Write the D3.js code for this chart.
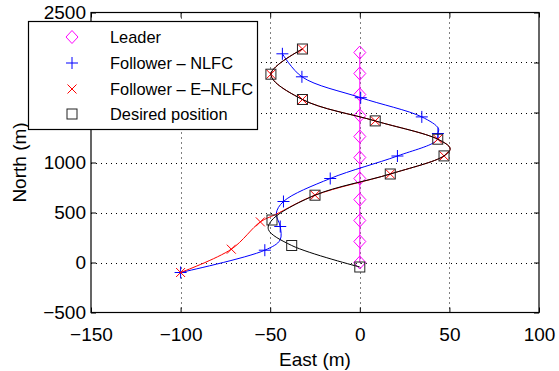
<!DOCTYPE html>
<html><head><meta charset="utf-8">
<script src="https://cdn.jsdelivr.net/npm/d3@7"></script>
<style>body{margin:0;background:#fff}svg{display:block}text{font-family:"Liberation Sans",Arial,Helvetica,sans-serif}</style>
</head><body><svg id="c" width="559" height="371"></svg>
<script>
// ---- data ----
const xTicks = [-150, -100, -50, 0, 50, 100];
const yTicks = [-500, 0, 500, 1000, 1500, 2000, 2500];
const legendLabels = ["Leader", "Follower \u2013 NLFC", "Follower \u2013 E\u2013NLFC", "Desired position"];

// markers (one per sample time)
const leaderEast  = [0, 0, 0, 0, 0, 0, 0, 0, 0, 0, 0];
const leaderNorth = [0, 210, 420, 630, 840, 1050, 1260, 1470, 1680, 1890, 2100];
const nlfcEast    = [-100, -53, -44.4, -42.6, -16.5, 21, 43.6, 34.6, 0.5, -32.3, -43.2];
const nlfcNorth   = [-100, 123, 360, 610, 840, 1065, 1290, 1456, 1648, 1857, 2087];
const enlfcEast   = [-100, -71.7, -55.5, -25, 17, 47, 43.5, 8.6, -32, -49.6, -32];
const enlfcNorth  = [-100, 133, 406, 673, 885, 1066, 1233, 1416, 1630, 1883, 2135];
const desiredEast = [0, -38, -49, -25, 17, 47, 43.5, 8.6, -32, -49.6, -32];
const desiredNorth= [-45, 170, 425, 673, 885, 1066, 1233, 1416, 1630, 1883, 2135];

// traces
const leaderPathEast  = [0, 0];
const leaderPathNorth = [0, 2100];
const nlfcPathEast    = [-100, -53, -44.5, -44.4, -46.6, -42.6, -16.5, 21, 43, 43.6, 43.9, 34.6, 0.5, -32.3, -43.2];
const nlfcPathNorth   = [-100, 123, 225, 360, 490, 610, 840, 1065, 1223, 1290, 1340, 1456, 1648, 1857, 2087];
const enlfcPathEast   = [-100, -71.7, -55.5, -47, -25, 17, 47, 50.4, 43.5, 8.6, -32, -49.6, -32];
const enlfcPathNorth  = [-100, 133, 406, 480, 673, 885, 1066, 1140, 1233, 1416, 1630, 1883, 2135];
const desiredPathEast = [0, -38, -51, -49, -25, 17, 47, 50.4, 43.5, 8.6, -32, -49.6, -32];
const desiredPathNorth= [-45, 170, 330, 425, 673, 885, 1066, 1140, 1233, 1416, 1630, 1883, 2135];

// ---- drawing ----
const svg = d3.select("#c");
const L = 91, R = 539, T = 12.5, B = 312.5;
const x = d3.scaleLinear().domain([-150, 100]).range([L, R]);
const y = d3.scaleLinear().domain([-500, 2500]).range([B, T]);
const zip = (a, b) => a.map((v, i) => [v, b[i]]);

// grid
const grid = svg.append("g").attr("stroke", "#000").attr("stroke-width", 1).attr("stroke-dasharray", "1,4");
xTicks.slice(1, -1).forEach(t => grid.append("line").attr("x1", Math.round(x(t)) + 0.5).attr("x2", Math.round(x(t)) + 0.5).attr("y1", T).attr("y2", B));
yTicks.slice(1, -1).forEach(t => grid.append("line").attr("y1", Math.round(y(t)) + 0.5).attr("y2", Math.round(y(t)) + 0.5).attr("x1", L).attr("x2", R));

// axes
const fs = "19px";
const ax = svg.append("g");
ax.append("g").attr("transform", `translate(0,${B})`)
  .call(d3.axisBottom(x).tickValues(xTicks).tickSize(-5).tickPadding(15).tickFormat(d => d < 0 ? "\u2212" + Math.abs(d) : d));
ax.append("g").attr("transform", `translate(0,${T})`)
  .call(d3.axisTop(x).tickValues(xTicks).tickSize(-5).tickFormat(""));
ax.append("g").attr("transform", `translate(${L},0)`)
  .call(d3.axisLeft(y).tickValues(yTicks).tickSize(-5).tickPadding(5).tickFormat(d => d < 0 ? "\u2212" + Math.abs(d) : d));
ax.append("g").attr("transform", `translate(${R},0)`)
  .call(d3.axisRight(y).tickValues(yTicks).tickSize(-5).tickFormat(""));
ax.selectAll(".domain").remove();
ax.selectAll("line").attr("stroke", "#000");
ax.selectAll("text").attr("fill", "#000").style("font-size", fs);
svg.append("rect").attr("x", L).attr("y", T).attr("width", R - L).attr("height", B - T)
  .attr("fill", "none").attr("stroke", "#000").attr("stroke-width", 1.2);

svg.append("text").attr("x", (L + R) / 2).attr("y", 366).attr("text-anchor", "middle").style("font-size", fs).text("East (m)");
svg.append("text").attr("transform", `translate(26,${(T + B) / 2}) rotate(-90)`).attr("text-anchor", "middle").style("font-size", fs).text("North (m)");

// curves
const line = d3.line().x(d => x(d[0])).y(d => y(d[1])).curve(d3.curveCatmullRom.alpha(0.5));
const curves = svg.append("g").attr("fill", "none").attr("stroke-width", 1);
curves.append("path").attr("d", line(zip(leaderPathEast, leaderPathNorth))).attr("stroke", "#ff00ff");

// marker shapes
function diamond(g, cx, cy) { g.append("path").attr("d", `M${cx},${cy - 6.5}L${cx + 6},${cy}L${cx},${cy + 6.5}L${cx - 6},${cy}Z`).attr("fill", "none").attr("stroke", "#ff00ff"); }
function plus(g, cx, cy) { g.append("path").attr("d", `M${cx - 6},${cy}H${cx + 6}M${cx},${cy - 6}V${cy + 6}`).attr("stroke", "#0000ff"); }
function cross(g, cx, cy) { g.append("path").attr("d", `M${cx - 4.5},${cy - 4.5}L${cx + 4.5},${cy + 4.5}M${cx - 4.5},${cy + 4.5}L${cx + 4.5},${cy - 4.5}`).attr("stroke", "#ff0000"); }
function square(g, cx, cy) { g.append("rect").attr("x", cx - 5).attr("y", cy - 5).attr("width", 10).attr("height", 10).attr("fill", "none").attr("stroke", "#222"); }

const mk = svg.append("g").attr("stroke-width", 1);
zip(leaderEast, leaderNorth).forEach(d => diamond(mk, x(d[0]), y(d[1])));
svg.append("path").attr("fill", "none").attr("stroke", "#0000ff").attr("d", line(zip(nlfcPathEast, nlfcPathNorth)));
const mk2 = svg.append("g");
zip(nlfcEast, nlfcNorth).forEach(d => plus(mk2, x(d[0]), y(d[1])));
svg.append("path").attr("fill", "none").attr("stroke", "#ff0000").attr("d", line(zip(enlfcPathEast, enlfcPathNorth)));
const mk3 = svg.append("g");
zip(enlfcEast, enlfcNorth).forEach(d => cross(mk3, x(d[0]), y(d[1])));
svg.append("path").attr("fill", "none").attr("stroke", "#000").attr("d", line(zip(desiredPathEast, desiredPathNorth)));
const mk4 = svg.append("g");
zip(desiredEast, desiredNorth).forEach(d => square(mk4, x(d[0]), y(d[1])));

// legend
const lg = svg.append("g");
lg.append("rect").attr("x", 28.5).attr("y", 21.5).attr("width", 229).attr("height", 108).attr("fill", "#fff").attr("stroke", "#000").attr("stroke-width", 1.2);
const rowsY = [37, 63, 89, 114];
const drawers = [diamond, plus, cross, square];
legendLabels.forEach((t, i) => {
  drawers[i](lg, 72, rowsY[i]);
  lg.append("text").attr("x", 110).attr("y", rowsY[i] + 6).style("font-size", "16.4px").text(t);
});
</script></body></html>
